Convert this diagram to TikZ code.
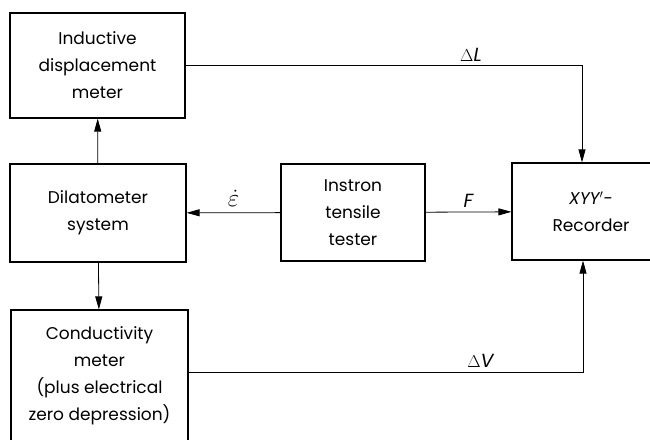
\documentclass[tikz,border=0pt]{standalone}
\usepackage{fontspec}
\setmainfont{Poppins}
\usetikzlibrary{arrows.meta,positioning}
\tikzset{
  >={Triangle[length=13pt,width=7pt]},
  blk/.style={draw,line width=1.2pt,align=center,inner sep=0pt,
    font=\fontsize{17}{27}\selectfont},
  sig/.style={line width=.8pt,->},
  lbl/.style={font=\fontsize{19}{20}\selectfont,inner sep=4pt}
}
\begin{document}
\begin{tikzpicture}[x=1pt,y=1pt]
\useasboundingbox (0,0) rectangle (650,439);
\clip (0,0) rectangle (650,439);
\node[blk,minimum width=175pt,minimum height=105pt] (ind) at (97.5,373.5) {Inductive\\displacement\\meter};
\node[blk,minimum width=176pt,minimum height=98pt] (dil) at (98,226) {Dilatometer\\system};
\node[blk,minimum width=177pt,minimum height=132pt] (cond) at (99.5,63) {Conductivity\\meter\\(plus electrical\\zero depression)};
\node[blk,minimum width=144pt,minimum height=97pt] (ins) at (353,226.5) {Instron\\tensile\\tester};
\node[blk,minimum width=158pt,minimum height=97pt] (rec) at (591,227.5) {{\itshape XYY$'$-}\\Recorder};
% signal paths
\draw[sig] (dil) -- (ind);
\draw[sig] (dil) -- (cond);
\draw[sig] (ins) -- node[lbl,above,font=\fontsize{26}{26}\selectfont,inner sep=6pt] {$\dot{\varepsilon}$} (dil);
\draw[sig] (ins) -- node[lbl,above] {\itshape F} (rec);
\draw[sig] (ind.east) -| node[lbl,above,pos=.36] {$\Delta${\itshape L}} ([xshift=-9pt]rec.north);
\draw[sig] ([yshift=4pt]cond.east) -| node[lbl,above,pos=.37] {$\Delta${\itshape V}} ([xshift=-8pt]rec.south);
\end{tikzpicture}
\end{document}
